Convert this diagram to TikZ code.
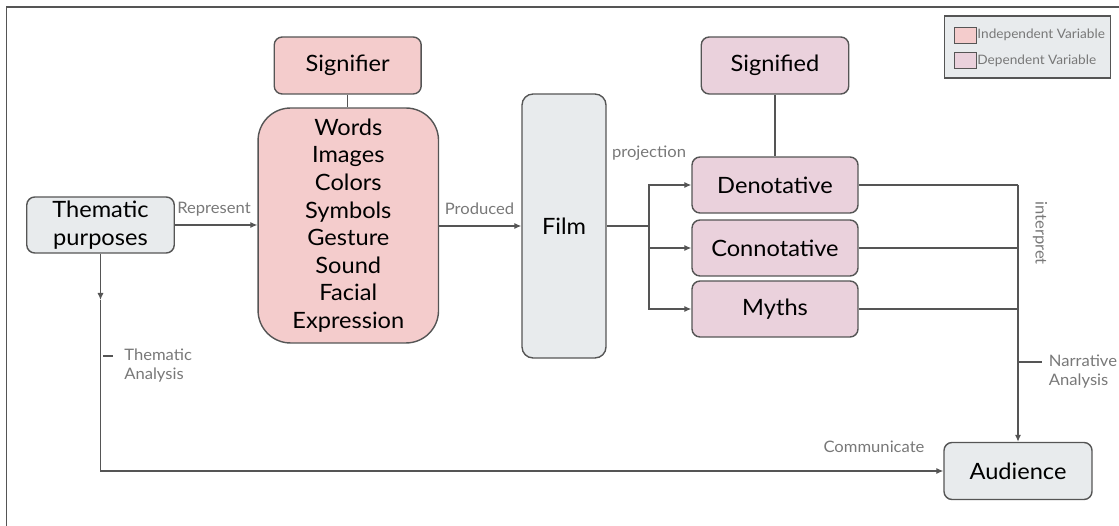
\documentclass[tikz,border=0pt]{standalone}
\usepackage{fontspec}
\setmainfont{Lato}[FakeStretch=1.05]
\usepackage{xcolor}
\usepackage{tikz}
\usetikzlibrary{arrows.meta}

\definecolor{indep}{RGB}{244,204,204}
\definecolor{dep}{RGB}{234,209,220}
\definecolor{pale}{RGB}{232,235,237}
\definecolor{edge}{RGB}{85,85,85}
\definecolor{lbl}{RGB}{120,120,120}

\tikzset{
	box/.style={draw=edge, line width=0.8pt, rounded corners=0.16cm, align=center, inner sep=0pt, font=\fontsize{12.8}{15.7}\selectfont},
	lab/.style={text=lbl, inner sep=0pt, font=\fontsize{9}{10.5}\selectfont},
	conn/.style={draw=edge, line width=0.7pt},
	tip/.style={-{Latex[length=4pt,width=3.5pt]}}
}

\begin{document}
\begin{tikzpicture}[x=0.02cm, y=-0.02cm]
				\useasboundingbox (0,0) rectangle (1119,526);
				\draw[edge, line width=0.8pt] (6.4,540) -- (6.4,7) -- (1130,7);
				
				% signifier side
				\node[box, fill=indep, minimum width=2.94cm, minimum height=1.14cm] (sgr) at (347.7,65.5) {Signifier};
				\node[box, fill=indep, rounded corners=0.65cm, minimum width=3.61cm, minimum height=4.7cm] (wrd) at (348.3,225.5)
					{Words\\Images\\Colors\\Symbols\\Gesture\\Sound\\Facial\\Expression};
				\node[box, fill=pale, minimum width=2.95cm, minimum height=1.12cm] (thm) at (100.5,225) {Thematic\\purposes};
				\node[box, fill=pale, rounded corners=0.22cm, minimum width=1.68cm, minimum height=5.28cm] (film) at (564,226) {Film};
				
				% signified side
				\node[box, fill=dep, minimum width=2.95cm, minimum height=1.14cm] (sgd) at (775,65.5) {Signified};
				\foreach \x/\y/\t in
				{den/185/Denotative, con/248/Connotative, myth/309/Myths}{
					\node[box, fill=dep, minimum width=3.32cm, minimum height=1.12cm] (\x) at (775,\y) {\t};
				}
				\node[box, fill=pale, minimum width=2.96cm, minimum height=1.14cm] (aud) at (1018,471) {Audience};
				
				% legend
				\node[draw=edge, fill=pale, line width=0.8pt, minimum width=3.32cm, minimum height=1.24cm, inner sep=0pt] (key) at (1027.6,47) {};
				\node[draw=edge, fill=indep, minimum width=0.44cm, minimum height=0.32cm, inner sep=0pt] (ki) at (965.7,35) {};
				\node[draw=edge, fill=dep, minimum width=0.44cm, minimum height=0.32cm, inner sep=0pt] (kd) at (965.7,60.5) {};
				\node[lab, anchor=west, font=\fontsize{7.4}{8}\selectfont] at (ki.east) {Independent Variable};
				\node[lab, anchor=west, font=\fontsize{7.4}{8}\selectfont] at (kd.east) {Dependent Variable};
				
				% connectors
				\draw[conn] (sgr) -- (sgr.south |- wrd.north);
				\draw[conn] (sgd) -- (den);
				\draw[conn, tip] (thm) -- (thm -| wrd.west);
				\draw[conn, tip] (wrd.east |- film) -- (film);
				\coordinate (br) at (649,226);
				\draw[conn] (film.east |- br) -- (br);
				\foreach \x in {den, con, myth}{
					\draw[conn, tip] (br) |- (\x.west);
				}
				\coordinate (jn) at (den.east -| aud.north);
				\foreach \x in {den, con, myth}{
					\draw[conn] (\x.east) -- (\x.east -| jn);
				}
				\draw[conn, tip] (jn) -- (aud.north);
				\coordinate (tdn) at (100.5,300);
				\draw[conn, tip] (thm.south) -- (tdn);
				\draw[conn, tip] (tdn) |- (aud.west);
				
				% labels
				\node[lab] at (214,209) {Represent};
				\node[lab] at (479.5,209) {Produced};
				\node[lab] at (649,153) {projection};
				\node[lab, rotate=-90] at (1040,233) {interpret};
				\node[lab] at (874,447) {Communicate};
				\draw[conn] (103,356) -- (112.5,356);
				\node[lab, anchor=north west, align=left] at (124,349) {Thematic\\Analysis};
				\draw[conn] (1018,362) -- (1042,362);
				\node[lab, anchor=north west, align=left] at (1048.6,355) {Narrative\\Analysis};
			\end{tikzpicture}
\end{document}
